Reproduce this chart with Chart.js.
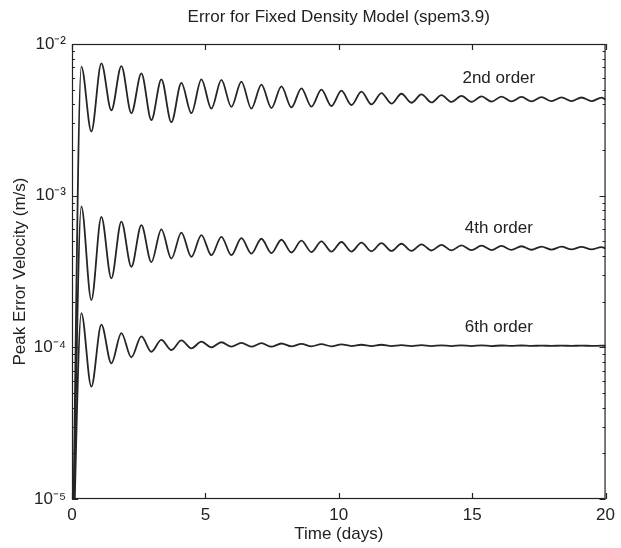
<!DOCTYPE html>
<html lang="en">
<head>
<meta charset="UTF-8">
<title>Error for Fixed Density Model (spem3.9)</title>
<script src="https://cdn.jsdelivr.net/npm/chart.js"></script>
<style>
  html, body { margin: 0; padding: 0; background: #fff; }
</style>
</head>
<body>
<canvas id="errChart" width="621" height="548"></canvas>
<script>
// time (days): start, then alternating peak / trough of the oscillation, then end
const days = [0, 0.35, 0.725, 1.1, 1.475, 1.85, 2.225, 2.6, 2.975, 3.35, 3.725, 4.1, 4.475,
  4.85, 5.225, 5.6, 5.975, 6.35, 6.725, 7.1, 7.475, 7.85, 8.225, 8.6, 8.975, 9.35, 9.725,
  10.1, 10.475, 10.85, 11.225, 11.6, 11.975, 12.35, 12.725, 13.1, 13.475, 13.85, 14.225,
  14.6, 14.975, 15.35, 15.725, 16.1, 16.475, 16.85, 17.225, 17.6, 17.975, 18.35, 18.725,
  19.1, 19.475, 19.85, 20];

// peak error velocity (m/s)
const order2 = [2e-6,
  7.1e-3, 2.65e-3, 7.45e-3, 3.65e-3, 7.15e-3, 3.5e-3, 6.4e-3, 3.15e-3, 5.85e-3, 3.05e-3,
  5.55e-3, 3.5e-3, 5.85e-3, 3.75e-3, 5.8e-3, 3.85e-3, 5.65e-3, 3.75e-3, 5.4e-3, 3.78e-3,
  5.25e-3, 3.82e-3, 5.1e-3, 3.86e-3, 5.0e-3, 3.9e-3, 4.92e-3, 3.96e-3, 4.85e-3, 4.0e-3,
  4.75e-3, 4.05e-3, 4.7e-3, 4.1e-3, 4.65e-3, 4.12e-3, 4.6e-3, 4.15e-3, 4.55e-3, 4.15e-3,
  4.52e-3, 4.17e-3, 4.5e-3, 4.18e-3, 4.48e-3, 4.18e-3, 4.46e-3, 4.2e-3, 4.45e-3, 4.2e-3,
  4.44e-3, 4.2e-3, 4.43e-3, 4.3e-3];

const order4 = [2e-6,
  8.5e-4, 2.05e-4, 7.25e-4, 2.85e-4, 6.75e-4, 3.4e-4, 6.4e-4, 3.65e-4, 6.0e-4, 3.85e-4,
  5.7e-4, 3.95e-4, 5.5e-4, 4.05e-4, 5.35e-4, 4.05e-4, 5.25e-4, 4.15e-4, 5.2e-4, 4.18e-4,
  5.12e-4, 4.22e-4, 5.05e-4, 4.25e-4, 5.0e-4, 4.27e-4, 4.95e-4, 4.28e-4, 4.9e-4, 4.3e-4,
  4.86e-4, 4.32e-4, 4.82e-4, 4.33e-4, 4.78e-4, 4.35e-4, 4.74e-4, 4.36e-4, 4.7e-4, 4.37e-4,
  4.68e-4, 4.38e-4, 4.66e-4, 4.39e-4, 4.64e-4, 4.4e-4, 4.62e-4, 4.41e-4, 4.61e-4, 4.42e-4,
  4.6e-4, 4.42e-4, 4.58e-4, 4.5e-4];

const order6 = [2e-6,
  1.68e-4, 5.5e-5, 1.41e-4, 7.85e-5, 1.24e-4, 8.6e-5, 1.18e-4, 9.35e-5, 1.12e-4, 9.6e-5,
  1.11e-4, 9.85e-5, 1.09e-4, 1.0e-4, 1.08e-4, 1.01e-4, 1.07e-4, 1.01e-4, 1.065e-4, 1.01e-4,
  1.06e-4, 1.015e-4, 1.055e-4, 1.015e-4, 1.05e-4, 1.015e-4, 1.045e-4, 1.02e-4, 1.04e-4, 1.02e-4,
  1.04e-4, 1.02e-4, 1.035e-4, 1.02e-4, 1.035e-4, 1.02e-4, 1.03e-4, 1.02e-4, 1.03e-4, 1.02e-4,
  1.03e-4, 1.02e-4, 1.028e-4, 1.022e-4, 1.028e-4, 1.022e-4, 1.027e-4, 1.022e-4, 1.026e-4, 1.022e-4,
  1.026e-4, 1.022e-4, 1.025e-4, 1.024e-4];

const seriesNames = ['2nd order', '4th order', '6th order'];
const labelDay = [16, 16, 16];
const labelValue = [5.97e-3, 6.12e-4, 1.36e-4];

const xTicks = [0, 5, 10, 15, 20];
const yTicks = [1e-5, 1e-4, 1e-3, 1e-2];
const yTickLabels = ['10\u207B\u2075', '10\u207B\u2074', '10\u207B\u00B3', '10\u207B\u00B2'];

const ink = '#222';
const font = '"Liberation Sans", Arial, sans-serif';
const fs = 17;

// minor log ticks 2..9 inside each decade
const yMinor = [];
yTicks.slice(0, -1).forEach(d => { for (let m = 2; m < 10; m++) yMinor.push(d * m); });

const toPoints = vals => days.map((d, i) => ({ x: d, y: vals[i] }));

// box around the axes, inward tick marks, curve labels
const framePlugin = {
  id: 'frame',
  afterDraw(chart) {
    const { ctx, chartArea: a, scales: { x, y } } = chart;
    ctx.save();
    ctx.strokeStyle = ink;
    ctx.lineWidth = 1.2;
    ctx.strokeRect(a.left + 0.5, a.top + 0.5, a.right - a.left - 1, a.bottom - a.top - 1);
    ctx.beginPath();
    xTicks.forEach(v => {
      const px = Math.round(x.getPixelForValue(v)) + 0.5;
      ctx.moveTo(px, a.bottom); ctx.lineTo(px, a.bottom - 6);
      ctx.moveTo(px, a.top); ctx.lineTo(px, a.top + 6);
    });
    yTicks.forEach(v => {
      const py = Math.round(y.getPixelForValue(v)) + 0.5;
      ctx.moveTo(a.left, py); ctx.lineTo(a.left + 6, py);
      ctx.moveTo(a.right, py); ctx.lineTo(a.right - 6, py);
    });
    yMinor.forEach(v => {
      const py = Math.round(y.getPixelForValue(v)) + 0.5;
      ctx.moveTo(a.left, py); ctx.lineTo(a.left + 3, py);
      ctx.moveTo(a.right, py); ctx.lineTo(a.right - 3, py);
    });
    ctx.stroke();

    ctx.fillStyle = ink;
    ctx.font = fs + 'px ' + font;
    ctx.textAlign = 'center';
    ctx.textBaseline = 'middle';
    seriesNames.forEach((s, i) => {
      ctx.fillText(s, x.getPixelForValue(labelDay[i]), y.getPixelForValue(labelValue[i]));
    });
    ctx.restore();
  }
};

const lineStyle = {
  borderColor: '#252525',
  borderWidth: 1.8,
  pointRadius: 0,
  fill: false,
  cubicInterpolationMode: 'monotone'
};

new Chart(document.getElementById('errChart'), {
  type: 'line',
  data: {
    datasets: [
      Object.assign({ label: seriesNames[0], data: toPoints(order2) }, lineStyle),
      Object.assign({ label: seriesNames[1], data: toPoints(order4) }, lineStyle),
      Object.assign({ label: seriesNames[2], data: toPoints(order6) }, lineStyle)
    ]
  },
  options: {
    responsive: false,
    devicePixelRatio: 1,
    animation: false,
    layout: { padding: { left: 0, right: 15, top: 0, bottom: 0 } },
    plugins: {
      legend: { display: false },
      tooltip: { enabled: false },
      title: {
        display: true,
        fullSize: false,
        text: 'Error for Fixed Density Model (spem3.9)',
        color: ink,
        font: { family: font, size: fs, weight: 'normal' },
        padding: { top: 7, bottom: 16.6 }
      }
    },
    scales: {
      x: {
        type: 'linear',
        min: 0,
        max: 20,
        afterBuildTicks: s => { s.ticks = xTicks.map(v => ({ value: v })); },
        afterFit: s => { s.height = 49; },
        grid: { display: false, drawTicks: false },
        border: { display: false },
        ticks: { color: ink, font: { family: font, size: fs }, padding: 6, maxRotation: 0 },
        title: {
          display: true,
          text: 'Time (days)',
          color: ink,
          font: { family: font, size: fs },
          padding: { top: 0, bottom: 3 }
        }
      },
      y: {
        type: 'logarithmic',
        min: 1e-5,
        max: 1e-2,
        afterBuildTicks: s => { s.ticks = yTicks.map(v => ({ value: v })); },
        afterFit: s => { s.width = 72; },
        grid: { display: false, drawTicks: false },
        border: { display: false },
        ticks: {
          color: ink,
          font: { family: font, size: fs },
          padding: 6,
          callback: v => yTickLabels[yTicks.indexOf(v)] ?? ''
        },
        title: {
          display: true,
          text: 'Peak Error Velocity (m/s)',
          color: ink,
          font: { family: font, size: fs },
          padding: { top: 10, bottom: 0 }
        }
      }
    }
  },
  plugins: [framePlugin]
});
</script>
</body>
</html>
